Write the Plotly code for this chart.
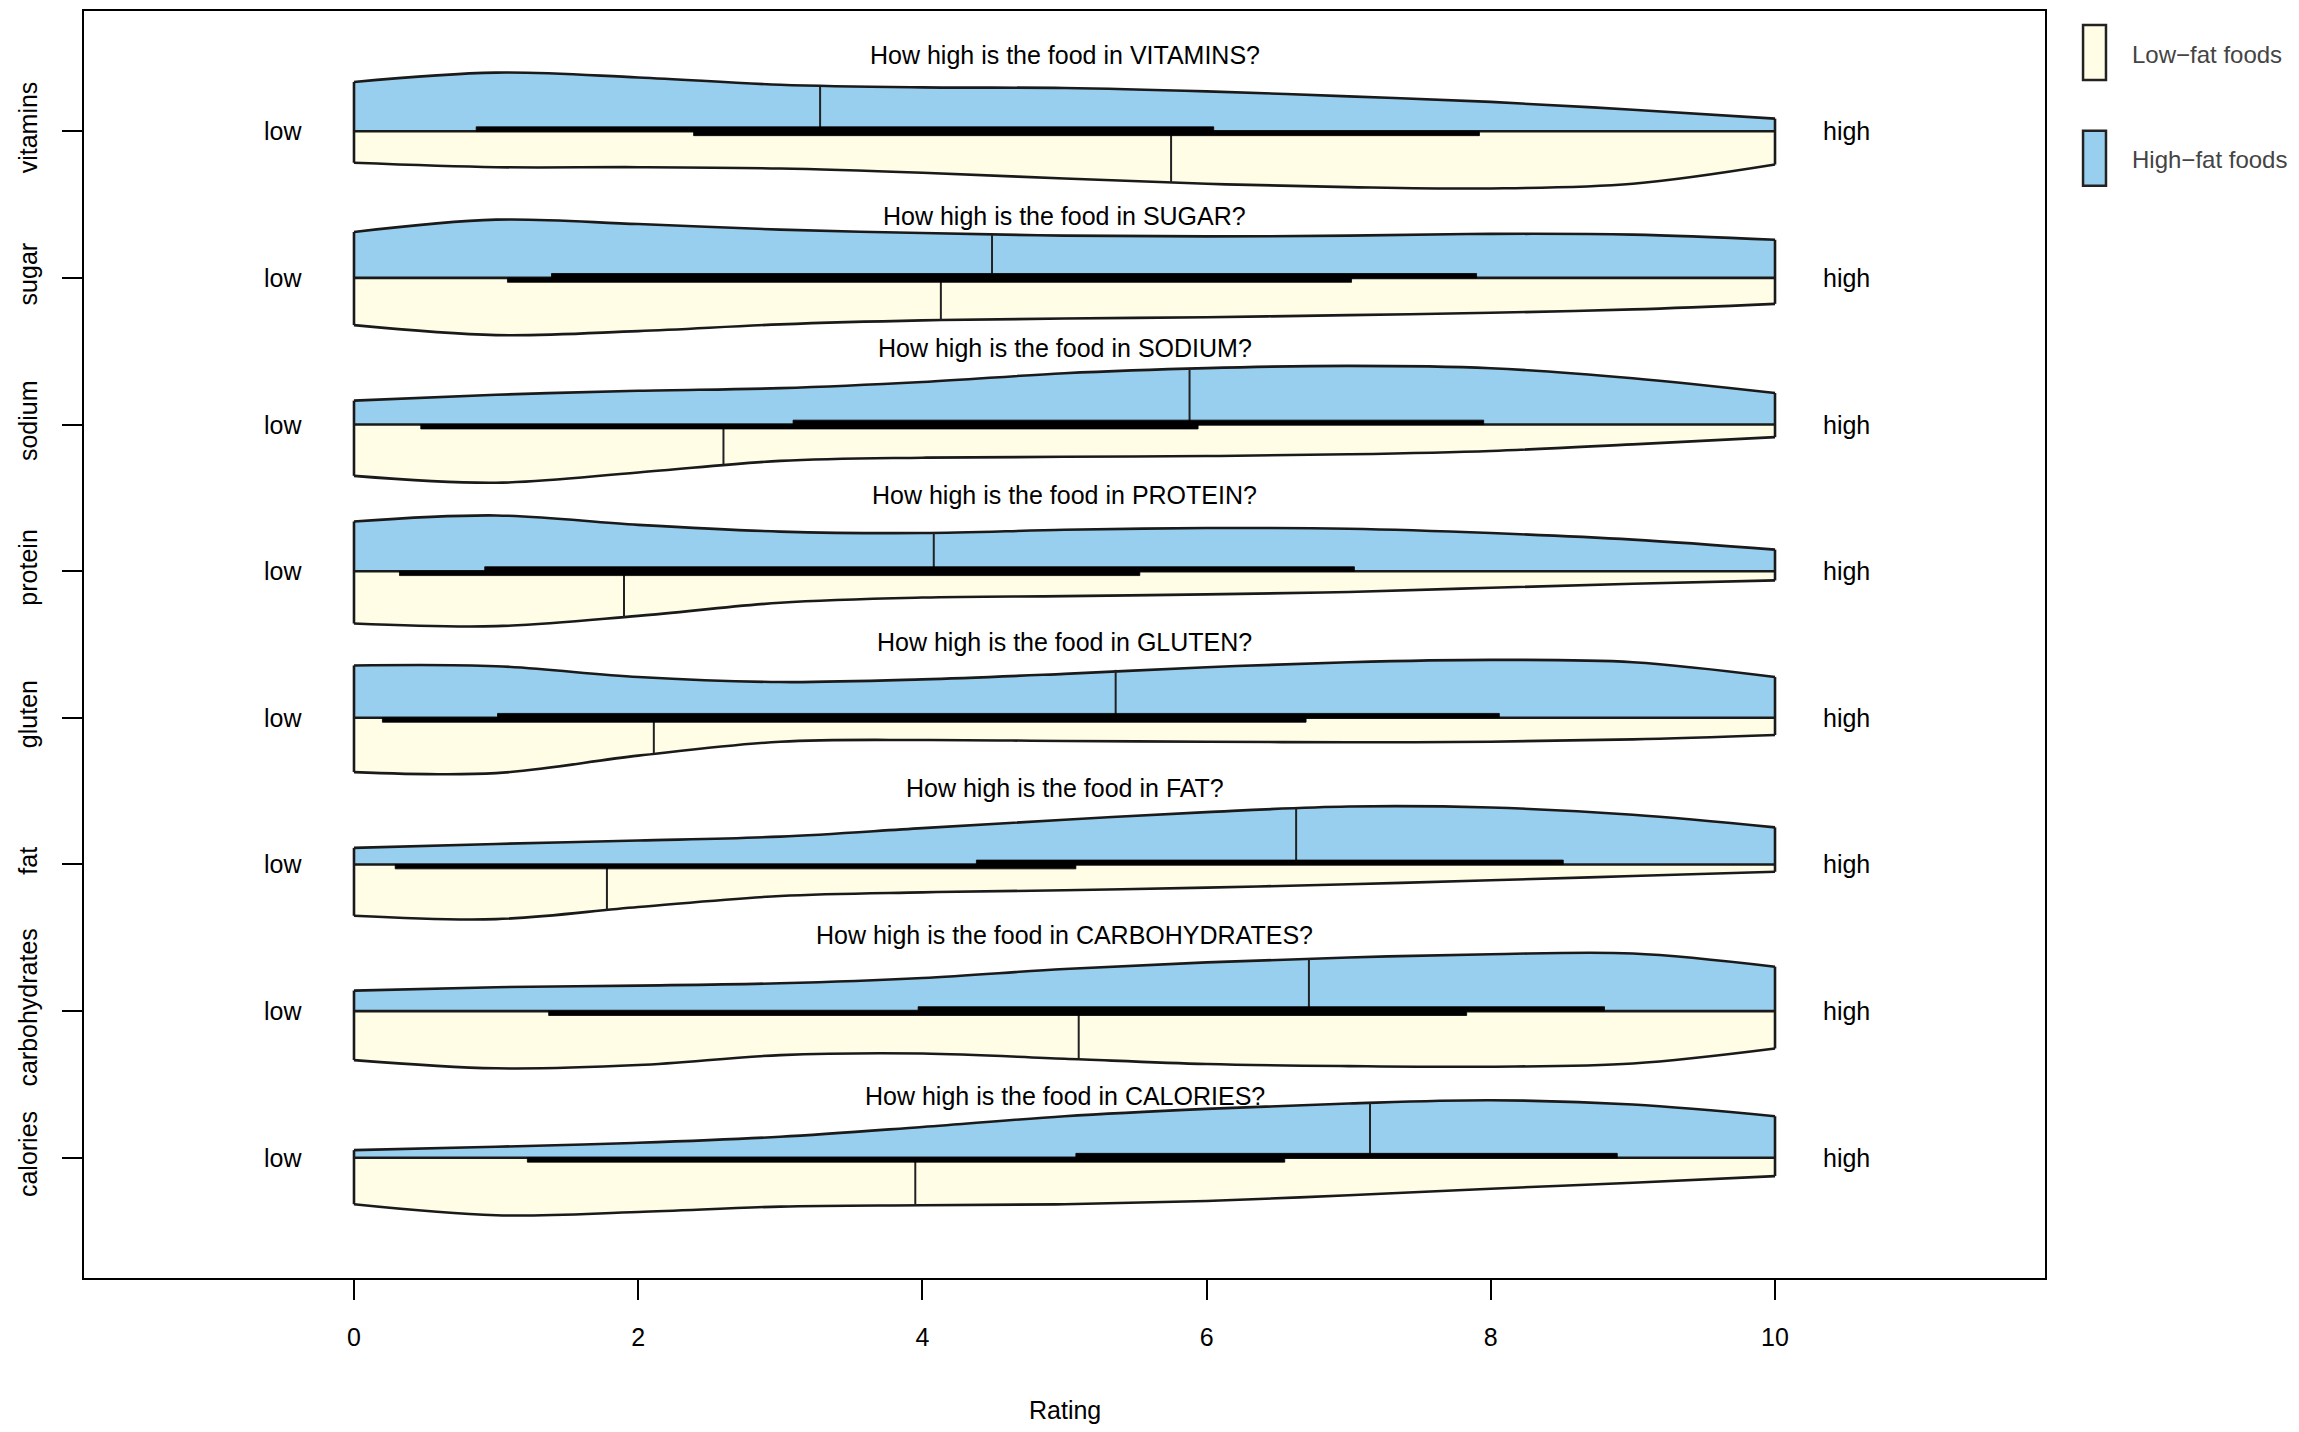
import plotly.graph_objects as go

# ---------------- data ----------------
categories = ["calories", "carbohydrates", "fat", "gluten", "protein", "sodium", "sugar", "vitamins"]
questions = ["CALORIES", "CARBOHYDRATES", "FAT", "GLUTEN", "PROTEIN", "SODIUM", "SUGAR", "VITAMINS"]
question_offset = [0.42, 0.52, 0.52, 0.52, 0.52, 0.52, 0.42, 0.52]
rating_grid = [0, 1, 2, 3, 4, 5, 6, 7, 8, 9, 10]
x_ticks = [0, 2, 4, 6, 8, 10]

# half-violin widths (density outline) at rating_grid, High-fat = upper, Low-fat = lower
high_calories = [0.052, 0.075, 0.102, 0.143, 0.21, 0.283, 0.333, 0.37, 0.392, 0.363, 0.283]
low_calories = [0.317, 0.392, 0.37, 0.333, 0.324, 0.317, 0.295, 0.256, 0.211, 0.17, 0.125]
high_carbohydrates = [0.14, 0.163, 0.174, 0.19, 0.226, 0.287, 0.332, 0.366, 0.388, 0.393, 0.303]
low_carbohydrates = [0.334, 0.39, 0.368, 0.30, 0.289, 0.325, 0.361, 0.375, 0.379, 0.357, 0.255]
high_fat = [0.113, 0.14, 0.163, 0.19, 0.248, 0.305, 0.357, 0.395, 0.388, 0.339, 0.253]
low_fat = [0.35, 0.373, 0.29, 0.215, 0.19, 0.176, 0.158, 0.135, 0.108, 0.079, 0.05]
high_gluten = [0.357, 0.352, 0.278, 0.244, 0.262, 0.30, 0.345, 0.379, 0.395, 0.379, 0.278]
low_gluten = [0.37, 0.377, 0.258, 0.163, 0.151, 0.158, 0.163, 0.167, 0.163, 0.147, 0.117]
high_protein = [0.339, 0.38, 0.316, 0.27, 0.26, 0.282, 0.294, 0.289, 0.26, 0.215, 0.147]
low_protein = [0.357, 0.375, 0.305, 0.215, 0.18, 0.17, 0.158, 0.142, 0.113, 0.086, 0.063]
high_sodium = [0.163, 0.203, 0.23, 0.248, 0.29, 0.35, 0.385, 0.40, 0.384, 0.316, 0.215]
low_sodium = [0.35, 0.397, 0.327, 0.248, 0.226, 0.22, 0.215, 0.203, 0.18, 0.135, 0.086]
high_sugar = [0.313, 0.397, 0.367, 0.329, 0.306, 0.288, 0.283, 0.288, 0.30, 0.295, 0.26]
low_sugar = [0.322, 0.39, 0.363, 0.317, 0.29, 0.277, 0.268, 0.254, 0.238, 0.215, 0.177]
high_vitamins = [0.336, 0.40, 0.367, 0.317, 0.299, 0.295, 0.272, 0.238, 0.20, 0.147, 0.086]
low_vitamins = [0.215, 0.245, 0.245, 0.254, 0.283, 0.322, 0.358, 0.381, 0.39, 0.358, 0.227]

# medians, quartiles (box) and outline height at the median
high_median = [7.15, 6.72, 6.63, 5.36, 4.08, 5.88, 4.49, 3.28]
low_median = [3.95, 5.10, 1.78, 2.11, 1.90, 2.60, 4.13, 5.75]
high_median_h = [0.374, 0.355, 0.379, 0.327, 0.26, 0.377, 0.295, 0.304]
low_median_h = [0.324, 0.33, 0.316, 0.242, 0.316, 0.27, 0.285, 0.35]
high_q1 = [5.08, 3.97, 4.38, 1.01, 0.92, 3.09, 1.39, 0.86]
high_q3 = [8.89, 8.80, 8.51, 8.06, 7.04, 7.95, 7.90, 6.05]
low_q1 = [1.22, 1.37, 0.29, 0.20, 0.32, 0.47, 1.08, 2.39]
low_q3 = [6.55, 7.83, 5.08, 6.70, 5.53, 5.94, 7.02, 7.92]

high_widths = [high_calories, high_carbohydrates, high_fat, high_gluten,
               high_protein, high_sodium, high_sugar, high_vitamins]
low_widths = [low_calories, low_carbohydrates, low_fat, low_gluten,
              low_protein, low_sodium, low_sugar, low_vitamins]

# ---------------- styles ----------------
HIGH_COL = "#98CFEF"
LOW_COL = "#FFFDE6"
EDGE = "#1a1a1a"
FONT = "Liberation Sans, Arial, Helvetica, sans-serif"
FS = 25
BOX_H = 0.03

fig = go.Figure()

positions = list(range(1, len(categories) + 1))

# filled half violins
for i, c in enumerate(positions):
    for widths, sign, col in ((low_widths[i], -1, LOW_COL), (high_widths[i], 1, HIGH_COL)):
        fig.add_trace(go.Scatter(x=[rating_grid[0], rating_grid[-1]], y=[c, c], mode="lines",
                                 line=dict(width=0, color=col), hoverinfo="skip", showlegend=False))
        fig.add_trace(go.Scatter(x=rating_grid, y=[c + sign * w for w in widths], mode="lines",
                                 line=dict(shape="spline", smoothing=1.0, width=2.6, color=EDGE),
                                 fill="tonexty", fillcolor=col, hoverinfo="skip", showlegend=False))

# straight edges: ends and centre line
ex, ey = [], []
for i, c in enumerate(positions):
    for k in (0, -1):
        ex += [rating_grid[k], rating_grid[k], None]
        ey += [c - low_widths[i][k], c + high_widths[i][k], None]
    ex += [rating_grid[0], rating_grid[-1], None]
    ey += [c, c, None]
fig.add_trace(go.Scatter(x=ex, y=ey, mode="lines", line=dict(width=2.6, color=EDGE),
                         hoverinfo="skip", showlegend=False))

# median lines
mx, my = [], []
for i, c in enumerate(positions):
    mx += [high_median[i], high_median[i], None, low_median[i], low_median[i], None]
    my += [c, c + high_median_h[i], None, c, c - low_median_h[i], None]
fig.add_trace(go.Scatter(x=mx, y=my, mode="lines", line=dict(width=2.0, color="#222222"),
                         hoverinfo="skip", showlegend=False))

# interquartile boxes (half boxes on each side)
for i, c in enumerate(positions):
    for q1, q3, sign in ((high_q1[i], high_q3[i], 1), (low_q1[i], low_q3[i], -1)):
        fig.add_trace(go.Scatter(x=[q1, q3, q3, q1, q1],
                                 y=[c, c, c + sign * BOX_H, c + sign * BOX_H, c],
                                 mode="lines", fill="toself", fillcolor="black",
                                 line=dict(width=0.8, color="black"),
                                 hoverinfo="skip", showlegend=False))

# annotations: questions, low / high
for i, c in enumerate(positions):
    fig.add_annotation(x=5, y=c + question_offset[i], text=f"How high is the food in {questions[i]}?",
                       showarrow=False, xanchor="center", yanchor="middle",
                       font=dict(family=FONT, size=FS, color="black"))
    fig.add_annotation(x=-0.5, y=c, text="low", showarrow=False, xanchor="center", yanchor="middle",
                       font=dict(family=FONT, size=FS, color="black"))
    fig.add_annotation(x=10.5, y=c, text="high", showarrow=False, xanchor="center", yanchor="middle",
                       font=dict(family=FONT, size=FS, color="black"))

# x-axis title
fig.add_annotation(x=5, y=-0.104, xref="x", yref="paper", text="Rating", showarrow=False,
                   xanchor="center", yanchor="middle", font=dict(family=FONT, size=FS, color="black"))

# legend (drawn manually, outside the plotting box)
legend_items = [("Low\u2212fat foods", LOW_COL, 0.989, 0.9456, 0.9653),
                ("High\u2212fat foods", HIGH_COL, 0.9054, 0.8621, 0.8826)]
for label, col, y1, y0, yt in legend_items:
    fig.add_shape(type="rect", xref="paper", yref="paper", x0=1.0194, x1=1.0311, y0=y0, y1=y1,
                  fillcolor=col, line=dict(color="#222222", width=2.5))
    fig.add_annotation(x=1.0433, y=yt, xref="paper", yref="paper", text=label, showarrow=False,
                       xanchor="left", yanchor="middle", font=dict(family=FONT, size=24, color="#444444"))

# the page adds an 8px body margin, so the figure is made 8px smaller and shifted accordingly
fig.update_layout(
    width=2291, height=1424,
    margin=dict(l=76, r=254, t=1, b=154),
    paper_bgcolor="white", plot_bgcolor="white",
    font=dict(family=FONT, size=FS, color="black"),
    showlegend=False,
)
fig.update_xaxes(range=[-1.9, 11.9], tickvals=x_ticks, ticktext=[str(t) for t in x_ticks],
                 ticks="outside", ticklen=20, tickwidth=1.5, tickcolor="black",
                 showline=True, linecolor="black", linewidth=2, mirror=True,
                 showgrid=False, zeroline=False, ticklabelstandoff=16,
                 tickfont=dict(family=FONT, size=FS, color="black"))
fig.update_yaxes(range=[0.18, 8.82], tickvals=positions, ticktext=categories,
                 ticks="outside", ticklen=20, tickwidth=1.5, tickcolor="black", tickangle=-90,
                 showline=True, linecolor="black", linewidth=2, mirror=True,
                 showgrid=False, zeroline=False, ticklabelstandoff=15,
                 tickfont=dict(family=FONT, size=FS, color="black"))

fig.write_html("out.html")
